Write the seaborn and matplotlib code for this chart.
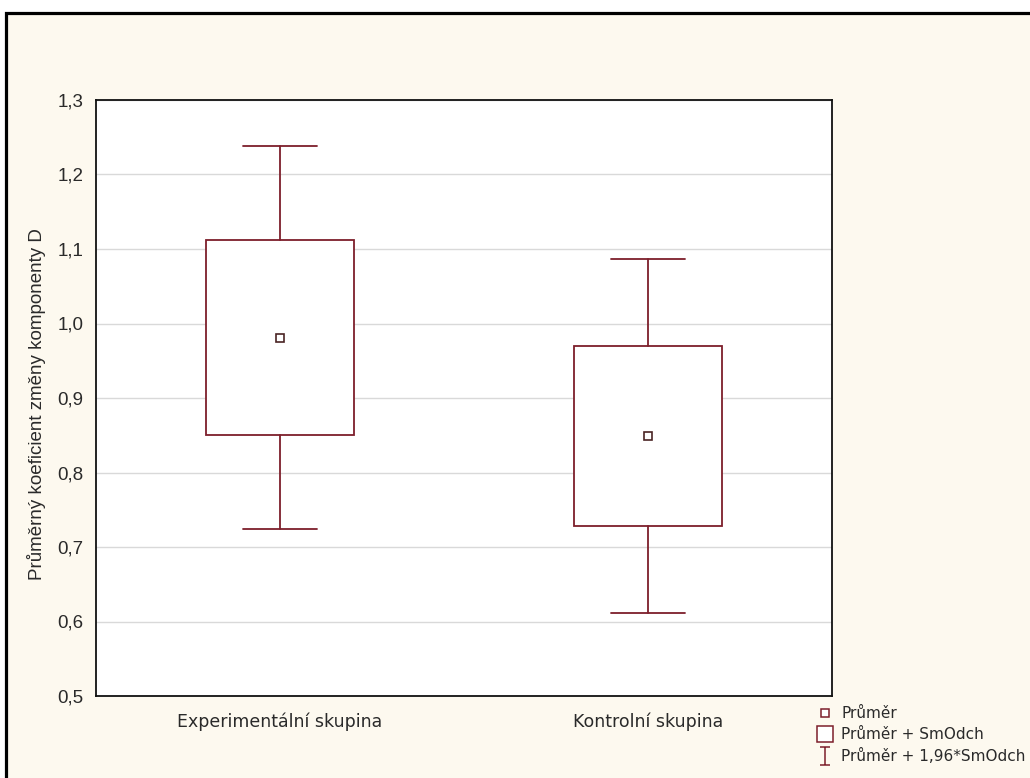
import numpy as np
import matplotlib
matplotlib.use("Agg")
import matplotlib.pyplot as plt
from matplotlib.patches import Rectangle
from matplotlib.lines import Line2D
from matplotlib.path import Path
from matplotlib.ticker import FuncFormatter, MultipleLocator
import seaborn as sns
import pandas as pd

# Group summaries: mean and standard deviation of the change coefficient
categories = ["Experimentální skupina", "Kontrolní skupina"]
means = [0.981, 0.849]
sds = [0.131, 0.121]
z_factor = 1.96

y_label = "Průměrný koeficient změny komponenty D"
legend_labels = ["Průměr", "Průměr + SmOdch", "Průměr + 1,96*SmOdch"]

line_col = "#7d1f2b"
mean_col = "#4a2424"
cream = "#fdf9ef"

sns.set_theme(style="white")
plt.rcParams["font.family"] = ["Liberation Sans", "DejaVu Sans"]

W, H = 1030, 778
fig = plt.figure(figsize=(W / 100, H / 100), dpi=100, facecolor="white")

# cream panel with a heavy black frame
fig.patches.append(Rectangle((5.5 / W, -0.1), 1.2, (H - 13.5) / H + 0.1,
                             transform=fig.transFigure, facecolor=cream,
                             edgecolor="black", linewidth=2.3, zorder=-5))

ax = fig.add_axes([96 / W, (H - 696) / H, (832 - 96) / W, (696 - 100) / H])
ax.set_zorder(3)
ax.set_facecolor("white")

# box = mean ± SD, whiskers = mean ± 1.96*SD
stats = []
for name, m, s in zip(categories, means, sds):
    stats.append(dict(label=name, med=m, q1=m - s, q3=m + s,
                      whislo=m - z_factor * s, whishi=m + z_factor * s,
                      fliers=[]))
ax.bxp(stats, positions=range(len(categories)), widths=0.4, patch_artist=True,
       showfliers=False,
       boxprops=dict(facecolor="white", edgecolor=line_col, linewidth=1.3),
       whiskerprops=dict(color=line_col, linewidth=1.3),
       capprops=dict(color=line_col, linewidth=1.3),
       medianprops=dict(linewidth=0), capwidths=0.2, zorder=2)

df = pd.DataFrame({"skupina": categories, "prumer": means})
sns.pointplot(data=df, x="skupina", y="prumer", ax=ax, linestyles="none",
              markers="s", errorbar=None, color=mean_col,
              markerfacecolor="white", markeredgecolor=mean_col,
              markersize=6, markeredgewidth=1.2, zorder=4)

ax.set_xlim(-0.5, 1.5)
ax.set_ylim(0.5, 1.3)
ax.yaxis.set_major_locator(MultipleLocator(0.1))
ax.yaxis.set_major_formatter(FuncFormatter(lambda v, p: f"{v:.1f}".replace(".", ",")))
ax.set_xticks(range(len(categories)))
ax.set_xticklabels(categories, family=["DejaVu Sans"], fontsize=12.5, color="#2a2a2a")
ax.grid(axis="y", color="#d9d9d9", linewidth=1.0, zorder=0)
ax.set_axisbelow(True)
for s in ax.spines.values():
    s.set_color("#111111")
    s.set_linewidth(1.3)
ax.tick_params(axis="x", direction="in", length=4, width=1, color="#111111", pad=12)
ax.tick_params(axis="y", direction="in", length=4, width=1, color="#111111",
               labelsize=13.5, labelcolor="#2a2a2a", pad=9)
ax.set_xlabel("")
ax.set_ylabel(y_label, fontsize=13.5, color="#2a2a2a")
ax.yaxis.set_label_coords(-0.068, 0.489)

# legend with a custom I-beam glyph for the 1.96*SD whiskers
ibeam = Path([(-0.5, 1), (0.5, 1), (0, 1), (0, -1), (-0.5, -1), (0.5, -1)],
             [Path.MOVETO, Path.LINETO, Path.MOVETO, Path.LINETO, Path.MOVETO, Path.LINETO])
handles = [
    Line2D([], [], linestyle="none", marker="s", markersize=5.5,
           markerfacecolor="white", markeredgecolor=line_col, markeredgewidth=1.1),
    Line2D([], [], linestyle="none", marker="s", markersize=11,
           markerfacecolor="white", markeredgecolor=line_col, markeredgewidth=1.1),
    Line2D([], [], linestyle="none", marker=ibeam, markersize=13,
           markerfacecolor="none", markeredgecolor=line_col, markeredgewidth=1.1),
]
fig.legend(handles, legend_labels, loc="upper left",
           bbox_to_anchor=(817 / W, 1 - 706 / H), frameon=False,
           prop=dict(family="DejaVu Sans", size=11), labelcolor="#2a2a2a",
           handlelength=1.0, handletextpad=0.6, labelspacing=0.4,
           borderpad=0, borderaxespad=0)

fig.savefig("out.png", dpi=100, facecolor="white")
